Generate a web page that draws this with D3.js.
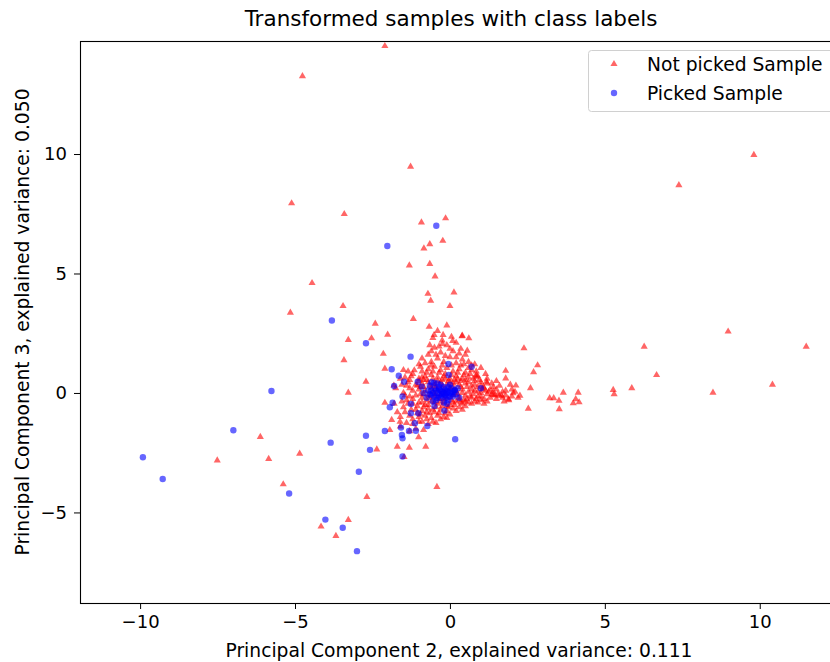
<!DOCTYPE html>
<html><head><meta charset="utf-8">
<script src="https://cdn.jsdelivr.net/npm/d3@7"></script>
<style>body{margin:0;background:#fff}svg{display:block;font-family:"DejaVu Sans",sans-serif}</style>
</head><body>
<svg id="c" width="830" height="662"></svg>
<script>
const title = "Transformed samples with class labels";
const xLabel = "Principal Component 2, explained variance: 0.111";
const yLabel = "Principal Component 3, explained variance: 0.050";
const seriesNames = ["Not picked Sample", "Picked Sample"];
const xTicks = [-10, -5, 0, 5, 10];
const yTicks = [-5, 0, 5, 10];
const xDomain = [-11.94, 12.3];
const yDomain = [-8.79, 14.73];

const notPicked = [
[-2.1,14.52],[-4.76,13.26],[9.81,9.96],[7.39,8.7],[-5.11,7.94],[-3.41,7.49],[-1.27,9.47],[-0.92,7.14],[-0.14,7.31],[-0.23,6.37],[-0.65,6.23],[-0.84,6.05],[-1.31,5.34],[-0.65,5.4],[-0.48,4.88],[-4.45,4.6],[-0.71,4.15],[0.13,4.21],[-0.62,3.86],[0.0,3.64],[-5.15,3.36],[-3.45,3.64],[-1.18,3.1],[-2.41,2.9],[-0.67,2.77],[-0.1,2.83],[-3.28,2.22],[-2.53,2.29],[-2.01,2.44],[-0.51,2.43],[-0.22,2.43],[0.39,2.38],[0.61,2.29],[-0.24,2.05],[0.09,2.18],[0.56,1.77],[-2.15,1.64],[-3.42,1.37],[-2.71,0.47],[-3.28,0.01],[-2.1,1.02],[-1.5,0.96],[-1.81,0.31],[-2.1,-0.41],[-1.88,-1.13],[-1.61,-1.2],[-1.94,-1.55],[-1.01,-1.85],[-1.7,-2.25],[-1.31,-2.29],[-0.78,-2.25],[-2.36,-2.36],[-1.48,-2.68],[-6.12,-1.84],[-7.51,-2.82],[-5.85,-2.76],[-4.85,-2.54],[-5.38,-3.82],[-4.16,-5.59],[-3.68,-5.98],[-3.28,-5.31],[-2.68,-4.35],[-0.42,-3.93],
[8.98,2.57],[11.5,1.94],[6.27,1.94],[2.39,1.87],[6.67,0.75],[10.41,0.35],[8.49,0.01],[5.87,0.2],[5.27,0.13],[5.3,-0.05],[2.83,1.16],[2.7,0.87],[1.8,0.93],[1.8,0.61],[2.13,0.31],[2.6,0.2],[2.26,-0.11],[2.53,-0.66],[3.22,-0.22],[3.35,-0.22],[3.52,-0.32],[3.66,0.01],[4.14,0.01],[4.06,-0.26],[3.98,-0.43],[4.17,-0.39],[3.53,-0.68],[1.89,-0.26],[2.04,-0.01],[1.67,-0.11],[1.4,-0.08],[1.18,0.47],[1.08,0.26],[0.84,0.68],[0.4,2.4],
[-0.9,0.9],[-0.7,1.0],[-0.5,1.1],[-0.3,0.95],[-0.1,1.05],[0.1,0.9],[0.3,1.0],[0.5,0.85],[0.7,0.95],[0.9,0.7],
[-1.0,0.6],[-0.8,0.7],[-0.6,0.75],[-0.4,0.65],[-0.2,0.7],[0.0,0.6],[0.2,0.7],[0.4,0.6],[0.6,0.65],[0.8,0.5],[1.0,0.45],
[-1.1,0.35],[-0.9,0.4],[-0.7,0.45],[-0.5,0.4],[-0.3,0.45],[-0.1,0.35],[0.1,0.4],[0.3,0.35],[0.5,0.4],[0.7,0.3],[0.9,0.25],[1.1,0.2],[1.3,0.15],
[-1.2,0.1],[-1.0,0.15],[-0.8,0.1],[-0.6,0.2],[-0.4,0.15],[-0.2,0.1],[0.0,0.2],[0.2,0.1],[0.4,0.15],[0.6,0.05],[0.8,0.1],[1.0,0.0],[1.2,-0.05],[1.4,0.05],[1.6,-0.1],
[-1.3,-0.15],[-1.1,-0.1],[-0.9,-0.2],[-0.7,-0.1],[-0.5,-0.15],[-0.3,-0.05],[-0.1,-0.2],[0.1,-0.1],[0.3,-0.2],[0.5,-0.1],[0.7,-0.2],[0.9,-0.15],[1.1,-0.25],[1.3,-0.2],[1.5,-0.25],[1.7,-0.2],[1.9,-0.3],
[-1.2,-0.45],[-1.0,-0.4],[-0.8,-0.5],[-0.6,-0.35],[-0.4,-0.45],[-0.2,-0.4],[0.0,-0.5],[0.2,-0.35],[0.4,-0.45],[0.6,-0.4],[0.8,-0.35],[1.0,-0.3],
[-1.1,-0.7],[-0.9,-0.75],[-0.7,-0.65],[-0.5,-0.8],[-0.3,-0.7],[-0.1,-0.75],[0.1,-0.65],[0.3,-0.6],[0.5,-0.55],
[-1.3,-0.95],[-1.0,-1.0],[-0.8,-0.95],[-0.6,-1.05],[-0.4,-0.95],[-0.2,-1.0],[0.0,-0.9],
[-1.4,-1.25],[-1.2,-1.3],[-0.9,-1.2],[-0.7,-1.3],[-0.45,-1.25],
[-1.5,-0.6],[-1.4,-0.3],[-1.5,0.0],[-1.4,0.3],[-1.3,0.55],[-1.2,0.8],
[-0.6,1.3],[-0.4,1.45],[-0.2,1.3],[0.0,1.5],[0.2,1.25],[0.4,1.4],[-0.8,1.25],[-0.3,1.7],[0.1,1.75],[-0.5,1.9],[0.3,1.65],[-0.1,2.0],[0.6,1.3],[0.8,1.2],[1.0,1.05],[-1.0,1.2],[0.5,1.6],[-0.7,1.6],
[-0.85,0.55],[-0.65,0.3],[-0.45,0.25],[-0.25,0.55],[-0.05,0.5],[0.15,0.55],[0.35,0.5],[0.55,0.25],[0.75,0.6],[0.95,0.55],
[-0.95,-0.05],[-0.75,-0.3],[-0.55,0.05],[-0.35,-0.25],[-0.15,0.0],[0.05,-0.3],[0.25,-0.05],[0.45,-0.3],[0.65,-0.15],[0.85,-0.25],[1.05,0.15],[1.25,0.05],[1.45,-0.1],
[-0.85,-0.6],[-0.65,-0.85],[-0.45,-0.6],[-0.25,-0.55],[-0.05,-0.6],[0.15,-0.5],[0.35,-0.4],
[-1.05,-0.85],[-0.95,0.25],[-0.15,0.8],[0.05,0.75],[0.25,0.85],[0.45,0.75],[0.65,0.8],[-0.35,0.85],[-0.55,0.9],[-0.75,0.85],
[1.8,0.1],[2.0,-0.15],[2.2,-0.2],[1.6,0.3],[1.75,-0.35],[1.35,0.4],[1.2,0.6],[1.5,0.5],[2.1,0.05],[1.95,0.35],
[-1.6,-1.0],[-1.7,-0.8],[-1.3,-1.6],[-1.1,-1.5],[-0.85,-1.55],[-1.6,-1.4],[-1.8,-0.45],[-1.75,0.2],[-1.6,0.6],
[-0.55,2.3],[-0.25,2.2],[0.05,2.35],[-0.4,2.6],[0.2,2.1],[-0.65,2.0],
[-1.15,0.95],[-0.95,1.1],[-0.6,1.15],[-0.25,1.15],[0.05,1.15],[0.35,1.15],[0.6,1.05],[0.85,0.9],[1.15,0.8],
[-1.25,0.7],[-0.9,0.65],[-0.55,0.6],[-0.15,0.6],[0.25,0.6],[0.5,0.55],[0.85,0.75],[1.2,0.4],[1.4,0.25],
[-1.35,0.45],[-1.0,0.5],[-0.75,0.55],[-0.4,0.5],[0.0,0.45],[0.2,0.45],[0.6,0.45],[0.8,0.35],[1.0,0.3],
[-1.3,0.2],[-1.05,0.3],[-0.85,0.25],[-0.5,0.3],[-0.25,0.3],[0.1,0.25],[0.35,0.25],[0.7,0.15],[0.9,0.05],[1.15,0.1],[1.5,0.15],[1.7,0.05],
[-1.45,-0.1],[-1.2,-0.25],[-0.85,-0.05],[-0.65,-0.2],[-0.45,-0.05],[-0.2,-0.25],[0.15,0.0],[0.4,0.0],[0.55,-0.25],[0.75,-0.05],[1.0,-0.15],[1.2,-0.35],[1.35,-0.05],[1.55,-0.05],[1.8,-0.1],[2.0,0.15],
[-1.35,-0.45],[-1.05,-0.55],[-0.9,-0.4],[-0.7,-0.5],[-0.5,-0.4],[-0.3,-0.35],[-0.1,-0.55],[0.1,-0.4],[0.3,-0.3],[0.5,-0.35],[0.7,-0.45],[0.9,-0.4],[1.1,-0.45],
[-1.25,-0.7],[-0.95,-0.9],[-0.75,-0.8],[-0.55,-0.7],[-0.35,-0.85],[-0.15,-0.85],[0.2,-0.75],[0.4,-0.7],
[-1.2,-1.1],[-1.0,-1.2],[-0.75,-1.1],[-0.55,-1.2],[-0.3,-1.1],[-0.1,-1.05],
[-1.45,-0.8],[-1.55,-0.35],[-1.55,0.35],[-1.45,0.65],[-1.35,0.9],
[-0.9,1.45],[-0.45,1.6],[-0.15,1.55],[0.2,1.5],[0.45,1.2],[0.7,1.15],[-0.6,1.75],[0.0,1.85],[-0.35,1.95],[0.35,1.85]
];

const picked = [
[-0.44,7.0],[-2.02,6.15],[-3.81,3.03],[-2.71,2.08],[-1.27,1.52],[-5.76,0.08],[-6.99,-1.56],[-9.91,-2.69],[-9.27,-3.6],[-3.85,-2.08],[-5.19,-4.21],[-4.02,-5.3],[-3.46,-5.64],[-3.0,-6.62],[-2.94,-3.3],[-2.71,-1.79],[-2.58,-2.38],[-1.53,-2.66],[0.17,-1.94],[-1.88,0.99],[-1.65,0.72],[-1.48,0.47],[-1.8,0.29],[-0.05,1.21],[0.7,1.1],[-0.04,0.75],[-1.04,0.47],[-0.91,0.26],[1.0,0.2],[-1.53,-0.15],[-1.85,-0.41],[-1.94,-0.6],[-1.26,-0.46],[-1.02,-0.85],[-1.26,-0.85],[-0.18,-0.74],[-1.13,-1.27],[-0.73,-1.38],[-1.58,-1.45],[-2.1,-1.59],[-1.32,-1.59],[-1.1,-1.58],[-1.55,-1.76],[-1.53,-1.9],
[-0.7,0.1],[-0.6,-0.1],[-0.5,0.2],[-0.45,-0.3],[-0.4,0.0],[-0.35,0.15],[-0.3,-0.2],[-0.25,0.05],[-0.2,0.25],[-0.15,-0.1],[-0.1,0.1],[-0.05,-0.3],[0.0,0.0],[0.05,0.2],[0.1,-0.15],[-0.55,-0.35],[-0.65,0.3],[-0.2,-0.4],[0.15,0.1],[0.2,-0.05],[-0.3,0.35],[-0.1,-0.45],[0.25,0.2],[-0.75,-0.2],[-0.4,0.4],[0.0,0.35],[-0.6,0.45],[0.3,-0.2],[-0.85,0.0],[-0.5,-0.55],[-0.51,0.43],[0.16,0.13],
[-0.55,0.0],[-0.45,0.1],[-0.35,-0.1],[-0.25,-0.05],[-0.15,0.15],[-0.05,0.05],[0.05,-0.05],[-0.3,0.1],[-0.2,-0.15],[-0.1,-0.2],[-0.4,-0.2],[-0.5,-0.15],[0.1,0.05],[-0.2,0.0],[-0.35,0.25],[-0.05,0.25],[-0.6,0.1],[-0.65,-0.05],[0.0,-0.15],[-0.1,0.0]
];

const svg = d3.select("#c");
const L = 80, T = 41, B = 603, R = 831;
const x = d3.scaleLinear().domain(xDomain).range([L, R]);
const y = d3.scaleLinear().domain(yDomain).range([B, T]);

svg.append("clipPath").attr("id", "plotclip").append("rect")
  .attr("x", L).attr("y", T).attr("width", R - L).attr("height", B - T);

const g = svg.append("g").attr("clip-path", "url(#plotclip)");
const tri = d3.symbol().type(d3.symbolTriangle).size(22);
g.selectAll("path.np").data(notPicked).join("path").attr("class","np")
  .attr("d", tri).attr("transform", d => `translate(${x(d[0])},${y(d[1])})`)
  .attr("fill", "#ff0000").attr("fill-opacity", 0.6);
g.selectAll("circle.pk").data(picked).join("circle").attr("class","pk")
  .attr("cx", d => x(d[0])).attr("cy", d => y(d[1])).attr("r", 3.2)
  .attr("fill", "#0000ff").attr("fill-opacity", 0.6);

const fmt = d => d < 0 ? "\u2212" + Math.abs(d) : String(d);
const xa = svg.append("g").attr("transform", `translate(0,${B})`)
  .call(d3.axisBottom(x).tickValues(xTicks).tickSize(6).tickPadding(6).tickFormat(fmt));
const ya = svg.append("g").attr("transform", `translate(${L},0)`)
  .call(d3.axisLeft(y).tickValues(yTicks).tickSize(6).tickPadding(7).tickFormat(fmt));
[xa, ya].forEach(a => {
  a.select(".domain").remove();
  a.selectAll("text").attr("font-size", 18).attr("font-family", "DejaVu Sans").attr("fill", "#000");
  a.selectAll("line").attr("stroke", "#000").attr("stroke-width", 1);
});

svg.append("rect").attr("x", L + 0.5).attr("y", T + 0.5).attr("width", R - L + 5).attr("height", B - T)
  .attr("fill", "none").attr("stroke", "#000").attr("stroke-width", 1.1);

svg.append("text").attr("x", 451).attr("y", 26).attr("text-anchor", "middle")
  .attr("font-size", 21.5).text(title);
svg.append("text").attr("x", 459).attr("y", 657).attr("text-anchor", "middle")
  .attr("font-size", 18.7).text(xLabel);
svg.append("text").attr("transform", "translate(29,322) rotate(-90)").attr("text-anchor", "middle")
  .attr("font-size", 18.7).text(yLabel);

const lg = svg.append("g");
lg.append("rect").attr("x", 588.5).attr("y", 50.5).attr("width", 260).attr("height", 61).attr("rx", 3)
  .attr("fill", "#fff").attr("fill-opacity", 0.8).attr("stroke", "#d0d0d0");
lg.append("path").attr("d", tri).attr("transform", "translate(614,64)").attr("fill", "#ff0000").attr("fill-opacity", 0.6);
lg.append("circle").attr("cx", 614).attr("cy", 93).attr("r", 3.2).attr("fill", "#0000ff").attr("fill-opacity", 0.6);
lg.selectAll("text.lt").data(seriesNames).join("text").attr("class","lt")
  .attr("x", 647).attr("y", (d, i) => 71 + i * 29).attr("font-size", 18.7).text(d => d);
</script>
</body></html>
